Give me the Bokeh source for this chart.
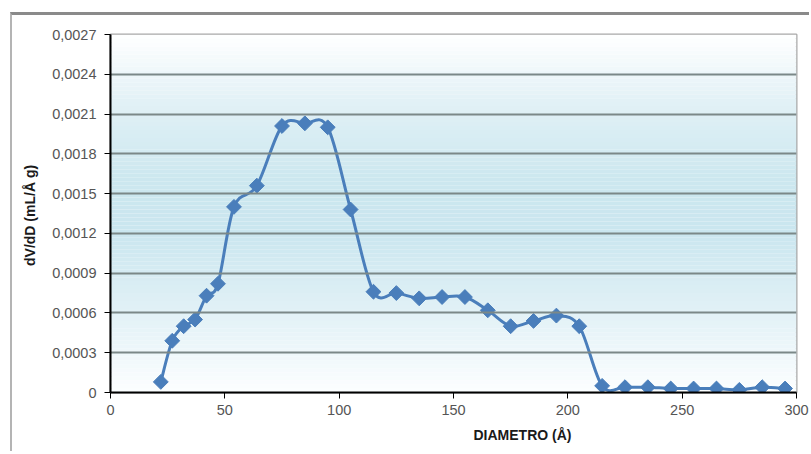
import numpy as np
from bokeh.plotting import figure
from bokeh.models import Range1d, FixedTicker, CustomJSTickFormatter, Title
from bokeh.embed import file_html
from bokeh.resources import INLINE

# ---- data ----
diametro = [22, 27, 32, 37, 42, 47, 54, 64, 75, 85, 95, 105, 115, 125, 135, 145,
            155, 165, 175, 185, 195, 205, 215, 225, 235, 245, 255, 265, 275, 285, 295]
dvdd = [0.00008, 0.00039, 0.00050, 0.00055, 0.00073, 0.00082, 0.00140, 0.00156,
        0.00201, 0.00203, 0.00200, 0.00138, 0.00076, 0.00075, 0.00071, 0.00072,
        0.00072, 0.00062, 0.00050, 0.00054, 0.00058, 0.00050, 0.00005, 0.00004,
        0.00004, 0.00003, 0.00003, 0.00003, 0.00002, 0.00004, 0.00003]
x_ticks = [0, 50, 100, 150, 200, 250, 300]
y_ticks = [0, 0.0003, 0.0006, 0.0009, 0.0012, 0.0015, 0.0018, 0.0021, 0.0024, 0.0027]
x_title = "DIAMETRO  (Å)"
y_title = "dV/dD  (mL/Å g)"

XMAX = 300
YMAX = 0.0027
BLUE = "#4a7ebb"

p = figure(width=799, height=439, output_backend="svg", toolbar_location=None,
           x_range=Range1d(0, XMAX), y_range=Range1d(0, YMAX),
           min_border_left=98, min_border_right=15, min_border_top=19, min_border_bottom=62,
           background_fill_color="white", border_fill_color="white",
           outline_line_color="#a8a8a8", outline_line_width=2,
           styles={"margin-left": "10px", "margin-top": "12px",
                   "border-top": "3px solid #8a8a8a", "border-left": "2px solid #b4b4b4"})

# background vertical gradient (white -> light blue -> white)
stops_v = np.array([0.0, 0.0004, 0.0012, 0.0016, 0.0022, 0.0027])
stops_c = np.array([[252, 254, 255], [234, 245, 249], [202, 230, 239],
                    [204, 231, 239], [226, 241, 246], [255, 255, 255]])
n = 90
edges = np.linspace(0, YMAX, n + 1)
mids = (edges[:-1] + edges[1:]) / 2
cols = []
for m in mids:
    rgb = [int(round(np.interp(m, stops_v, stops_c[:, k]))) for k in range(3)]
    cols.append("#%02x%02x%02x" % tuple(rgb))
p.quad(left=0, right=XMAX, bottom=edges[:-1], top=edges[1:], fill_color=cols,
       line_color=None)

# grid
p.xgrid.visible = False
p.ygrid.grid_line_color = "#7b8888"
p.ygrid.grid_line_width = 2
p.ygrid.level = "glyph"
p.ygrid.ticker = FixedTicker(ticks=y_ticks)

# series: smoothed line (Bezier segments through the data points, like Excel)
X = np.array(diametro, dtype=float)
Y = np.array(dvdd, dtype=float)
Xp = np.concatenate([[X[0]], X, [X[-1]]])
Yp = np.concatenate([[Y[0]], Y, [Y[-1]]])
t = 6.0
cx0 = X[:-1] + (Xp[2:-1] - Xp[:-3]) / t
cy0 = Y[:-1] + (Yp[2:-1] - Yp[:-3]) / t
cx1 = X[1:] - (Xp[3:] - Xp[1:-2]) / t
cy1 = Y[1:] - (Yp[3:] - Yp[1:-2]) / t
p.bezier(x0=X[:-1], y0=Y[:-1], x1=X[1:], y1=Y[1:], cx0=cx0, cy0=cy0, cx1=cx1, cy1=cy1,
         line_color=BLUE, line_width=3, line_cap="round")
p.scatter(diametro, dvdd, marker="square", angle=np.pi / 4, size=10.5,
          fill_color=BLUE, line_color=BLUE)

# axes
p.xaxis.ticker = FixedTicker(ticks=x_ticks)
p.yaxis.ticker = FixedTicker(ticks=y_ticks)
p.yaxis.formatter = CustomJSTickFormatter(
    code='if (tick == 0) { return "0"; } return tick.toFixed(4).replace(".", ",");')

for ax in (p.xaxis[0], p.yaxis[0]):
    ax.axis_line_color = "black"
    ax.axis_line_width = 2
    ax.major_tick_line_color = "black"
    ax.major_tick_line_width = 1
    ax.major_tick_in = 0
    ax.major_tick_out = 6
    ax.minor_tick_line_color = None
    ax.major_label_text_font = "Liberation Sans"
    ax.major_label_text_font_size = "14.5px"
    ax.major_label_text_color = "#555555"
    ax.axis_label_text_font = "Liberation Sans"
    ax.axis_label_text_font_size = "14px"
    ax.axis_label_text_font_style = "bold"
    ax.axis_label_text_color = "#1a1a1a"

p.yaxis.axis_label = y_title
p.xaxis.major_label_standoff = 6
p.yaxis.major_label_standoff = 8
p.yaxis.axis_label_standoff = 11

# x title sits right of centre in the original
p.add_layout(Title(text=x_title, align="left", offset=363, standoff=14,
                   text_font="Liberation Sans", text_font_size="14px",
                   text_font_style="bold", text_color="#1a1a1a"), "below")

open("out.html", "w").write(file_html(p, INLINE))
